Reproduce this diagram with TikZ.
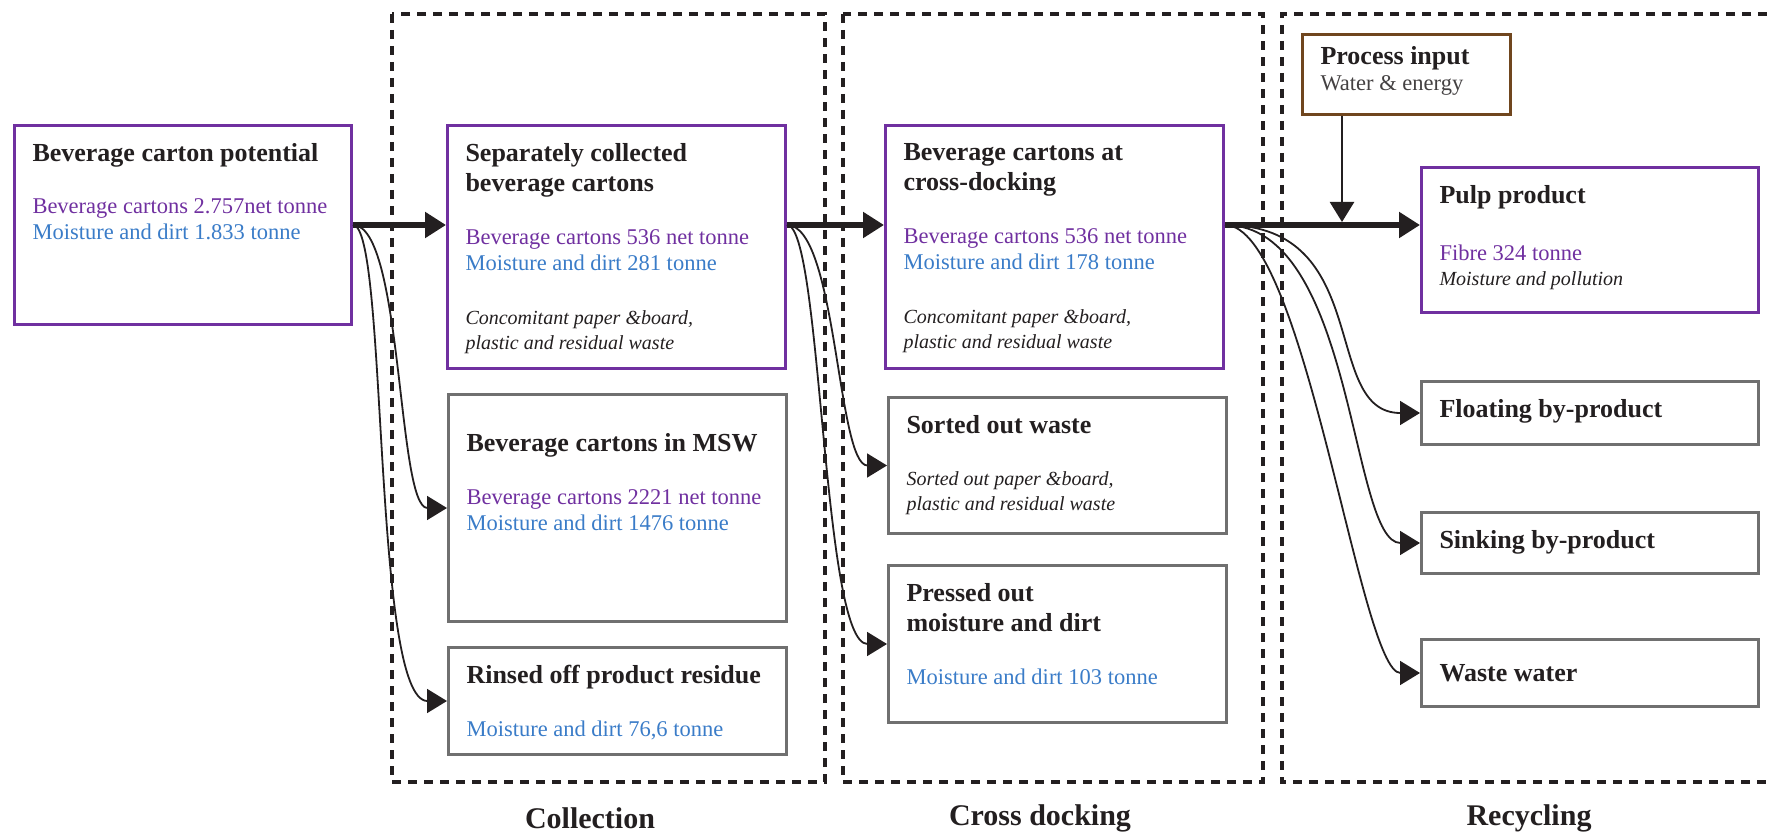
\documentclass[tikz,border=0pt]{standalone}
\usepackage{fontspec}
\setmainfont{Liberation Serif}
\usepackage{xcolor}
\usetikzlibrary{arrows.meta}

\definecolor{boxpurple}{RGB}{112,48,160}
\definecolor{txtblue}{RGB}{58,124,200}
\definecolor{boxgrey}{RGB}{112,112,112}
\definecolor{boxbrown}{RGB}{112,70,30}
\definecolor{inkdark}{RGB}{35,31,32}

\newcommand{\flowbox}[3]{\parbox[c][#2][t]{#1}{\raggedright #3}}
\newcommand{\hdfont}{\fontsize{26}{30}\selectfont\bfseries}
\newcommand{\numfont}{\fontsize{22.5}{26}\selectfont\mdseries}
\newcommand{\notefont}{\fontsize{20}{24.5}\selectfont\mdseries\itshape}

\begin{document}
\begin{tikzpicture}[x=1pt, y=-1pt,
  purplebox/.style={draw=boxpurple, line width=3pt, anchor=north west,
    inner xsep=18pt, inner ysep=18pt, text=inkdark},
  greybox/.style={purplebox, draw=boxgrey},
  brownbox/.style={purplebox, draw=boxbrown, inner ysep=12pt},
  stage/.style={draw=inkdark, line width=3.5pt, dash pattern=on 9pt off 7pt},
  stagename/.style={font=\fontsize{30}{34}\selectfont\bfseries, text=inkdark},
  mainflow/.style={draw=inkdark, line width=6pt, -{Triangle[length=21pt,width=25pt]}},
  sideflow/.style={draw=inkdark, line width=1.8pt, -{Triangle[length=20pt,width=24pt]}}]
  \useasboundingbox (0,0) rectangle (1767,837);

  \draw[stage] (392,14) rectangle (825,782);
  \draw[stage] (843,14) rectangle (1263,782);
  \draw[stage] (1767,14) -| (1282,782) -- (1767,782);

  \node[stagename] (lblcol) at (590,818) {Collection};
  \node[stagename] (lblcross) at (1040,818) {Cross docking};
  \node[stagename] (lblrec) at (1529,818) {Recycling};

  \node[purplebox] (pot) at (13,124) {\flowbox{301pt}{163pt}{\hdfont Beverage carton potential\par
    \vspace{26pt}\numfont\textcolor{boxpurple}{Beverage cartons 2.757net tonne}\par
    \textcolor{txtblue}{Moisture and dirt 1.833 tonne}}};

  \node[purplebox] (sep) at (446,124) {\flowbox{302pt}{207pt}{\hdfont Separately collected\\beverage cartons\par
    \vspace{27pt}\numfont\textcolor{boxpurple}{Beverage cartons 536 net tonne}\par
    \textcolor{txtblue}{Moisture and dirt 281 tonne}\par
    \vspace{29.5pt}\notefont Concomitant paper \&board,\\plastic and residual waste}};
  \node[greybox] (msw) at (447,393) {\flowbox{302pt}{191pt}{\vspace*{21pt}\hdfont Beverage cartons in MSW\par
    \vspace{27pt}\numfont\textcolor{boxpurple}{Beverage cartons 2221 net tonne}\par
    \textcolor{txtblue}{Moisture and dirt 1476 tonne}}};
  \node[greybox] (rinse) at (447,646) {\flowbox{302pt}{71pt}{\hdfont Rinsed off product residue\par
    \vspace{27pt}\numfont\textcolor{txtblue}{Moisture and dirt 76,6 tonne}}};

  \node[purplebox] (cross) at (884,124) {\flowbox{302pt}{207pt}{\hdfont Beverage cartons at\\cross-docking\par
    \vspace{27pt}\numfont\textcolor{boxpurple}{Beverage cartons 536 net tonne}\par
    \textcolor{txtblue}{Moisture and dirt 178 tonne}\par
    \vspace{29.5pt}\notefont Concomitant paper \&board,\\plastic and residual waste}};
  \node[greybox] (sorted) at (887,396) {\flowbox{302pt}{100pt}{\hdfont Sorted out waste\par
    \vspace{27.5pt}\notefont Sorted out paper \&board,\\plastic and residual waste}};
  \node[greybox] (pressed) at (887,564) {\flowbox{302pt}{121pt}{\hdfont Pressed out\\moisture and dirt\par
    \vspace{27pt}\numfont\textcolor{txtblue}{Moisture and dirt 103 tonne}}};

  \node[brownbox] (proc) at (1301,33) {\flowbox{172pt}{56pt}{\hdfont Process input\par
    \numfont\textcolor{inkdark!85}{Water \& energy}}};
  \node[purplebox] (pulp) at (1420,166) {\flowbox{301pt}{109pt}{\hdfont Pulp product\par
    \vspace{31pt}\numfont\textcolor{boxpurple}{Fibre 324 tonne}\par
    \notefont Moisture and pollution}};
  \node[greybox] (float) at (1420,380) {\flowbox{301pt}{27pt}{\hdfont Floating by-product}};
  \node[greybox] (sink) at (1420,511) {\flowbox{301pt}{25pt}{\hdfont Sinking by-product}};
  \node[greybox] (waste) at (1420,638) {\flowbox{301pt}{31pt}{\vspace*{7pt}\hdfont Waste water}};

  \draw[mainflow] (pot.east) -- (pot.east -| sep.west);
  \draw[mainflow] (sep.east |- pot.east) -- (pot.east -| cross.west);
  \draw[mainflow] (cross.east |- pot.east) -- (pot.east -| pulp.west);

  \coordinate (drop) at ([xshift=41pt]proc.south west);
  \draw[sideflow, line width=2.5pt, shorten >=3pt] (drop) -- (drop |- pot.east);

  \draw[sideflow] (pot.east) .. controls +(50,0) and +(-50,0) .. (msw.west);
  \draw[sideflow] (pot.east) .. controls +(35,0) and +(-75,0) .. (rinse.west);
  \draw[sideflow] (sep.east |- pot.east) .. controls +(50,0) and +(-50,0) .. (sorted.west);
  \draw[sideflow] (sep.east |- pot.east) .. controls +(35,0) and +(-65,0) .. (pressed.west);
  \draw[sideflow] (cross.east |- pot.east) .. controls +(150,0) and +(-100,0) .. (float.west);
  \draw[sideflow] (cross.east |- pot.east) .. controls +(130,0) and +(-70,0) .. (sink.west);
  \draw[sideflow] (cross.east |- pot.east) .. controls +(80,0) and +(-60,0) .. (waste.west);
\end{tikzpicture}
\end{document}
